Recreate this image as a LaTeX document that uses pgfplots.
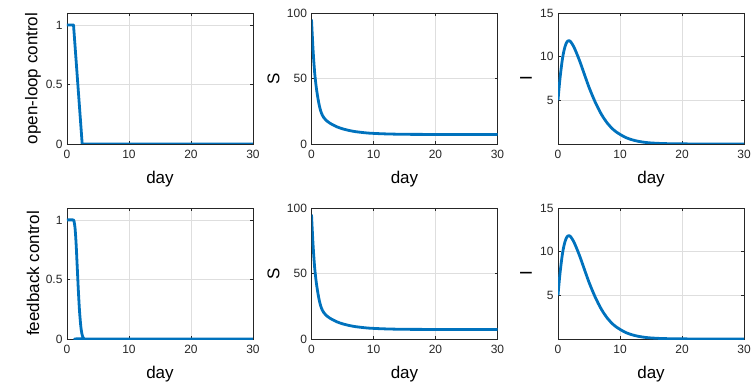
\documentclass[border=0pt]{standalone}
\usepackage{pgfplots}
\pgfplotsset{compat=1.18}
\usepackage{fontspec}
\setmainfont{Liberation Sans}
\definecolor{mblue}{rgb}{0,0.447,0.741}
\definecolor{mgrid}{rgb}{0.87,0.87,0.87}
\definecolor{maxis}{rgb}{0.15,0.15,0.15}

\pgfplotstableread{
t u
0 1
1.05 1
2.45 0
30 0
}\ucopen

\pgfplotstableread{
t u
0 1
1.0 1
1.1 0.995
1.2 0.97
1.3 0.93
1.4 0.86
1.5 0.77
1.6 0.66
1.7 0.55
1.8 0.44
1.9 0.34
2.0 0.25
2.1 0.18
2.2 0.12
2.3 0.075
2.4 0.045
2.5 0.025
2.6 0.012
2.7 0.005
2.8 0.002
2.9 0
30 0
}\ucfb

\pgfplotstableread{
t S
0 95
0.25 72
0.5 55
0.75 44
1 36
1.25 29.5
1.5 25
1.75 22
2 20
2.5 17.5
3 15.8
4 13.3
5 11.6
6 10.4
7 9.5
8 8.9
9 8.4
10 8.1
12 7.7
15 7.4
20 7.3
30 7.2
}\Sdata

\pgfplotstableread{
t I
0 5
0.25 7
0.5 8.6
0.75 9.9
1 10.8
1.25 11.4
1.5 11.75
1.75 11.85
2 11.75
2.5 11.2
3 10.4
3.5 9.5
4 8.5
5 6.5
6 4.8
7 3.4
8 2.35
9 1.6
10 1.1
11 0.72
12 0.47
13 0.3
14 0.19
15 0.12
17 0.05
20 0.015
25 0.003
30 0
}\Idata

\pgfplotsset{
  mstyle/.style={
    scale only axis, width=186pt, height=131pt,
    anchor=south west,
    xmin=0, xmax=30, xtick={0,10,20,30},
    axis line style={maxis, line width=0.6pt},
    tick style={maxis, line width=0.5pt},
    tick align=inside, major tick length=3pt,
    xtick pos=both, ytick pos=both,
    grid=major, major grid style={mgrid, line width=0.5pt},
    tick label style={font=\fontsize{12}{13}\selectfont, text=maxis},
    xticklabel style={yshift=-3pt},
    yticklabel style={xshift=-1pt},
    label style={font=\fontsize{17}{18}\selectfont, text=black},
    xlabel={day},
    xlabel style={at={(axis description cs:0.5,0)}, anchor=center, yshift=-35pt},
    ylabel style={at={(axis description cs:0,0.5)}, anchor=center},
    /pgf/number format/assume math mode=true,
    clip=true,
  },
  ustyle/.style={mstyle, ymin=0, ymax=1.1, ytick={0,0.5,1}, yticklabels={0,0.5,1},
     ylabel style={yshift=34pt}},
  sstyle/.style={mstyle, ymin=0, ymax=100, ytick={0,50,100},
     ylabel style={yshift=38pt}},
  istyle/.style={mstyle, ymin=0, ymax=15, ytick={0,5,10,15}, yticklabels={,5,10,15},
     ylabel style={yshift=32pt}},
  mline/.style={mblue, line width=2.8pt, line join=round},
}

\begin{document}
\begin{tikzpicture}
\path (0pt,0pt) rectangle (756pt,389pt);
% top row
\begin{axis}[ustyle, at={(67pt,245pt)}, ylabel={open-loop control}]
\addplot[mline] table[x=t,y=u]{\ucopen};
\end{axis}
\begin{axis}[sstyle, at={(311.5pt,245pt)}, ylabel={S}]
\addplot[mline, smooth] table[x=t,y=S]{\Sdata};
\end{axis}
\begin{axis}[istyle, at={(558pt,245pt)}, ylabel={I}]
\addplot[mline, smooth] table[x=t,y=I]{\Idata};
\end{axis}
% bottom row
\begin{axis}[ustyle, at={(67pt,50pt)}, ylabel={feedback control}]
\addplot[mline, smooth] table[x=t,y=u]{\ucfb};
\end{axis}
\begin{axis}[sstyle, at={(311.5pt,50pt)}, ylabel={S}]
\addplot[mline, smooth] table[x=t,y=S]{\Sdata};
\end{axis}
\begin{axis}[istyle, at={(558pt,50pt)}, ylabel={I}]
\addplot[mline, smooth] table[x=t,y=I]{\Idata};
\end{axis}
\end{tikzpicture}
\end{document}
